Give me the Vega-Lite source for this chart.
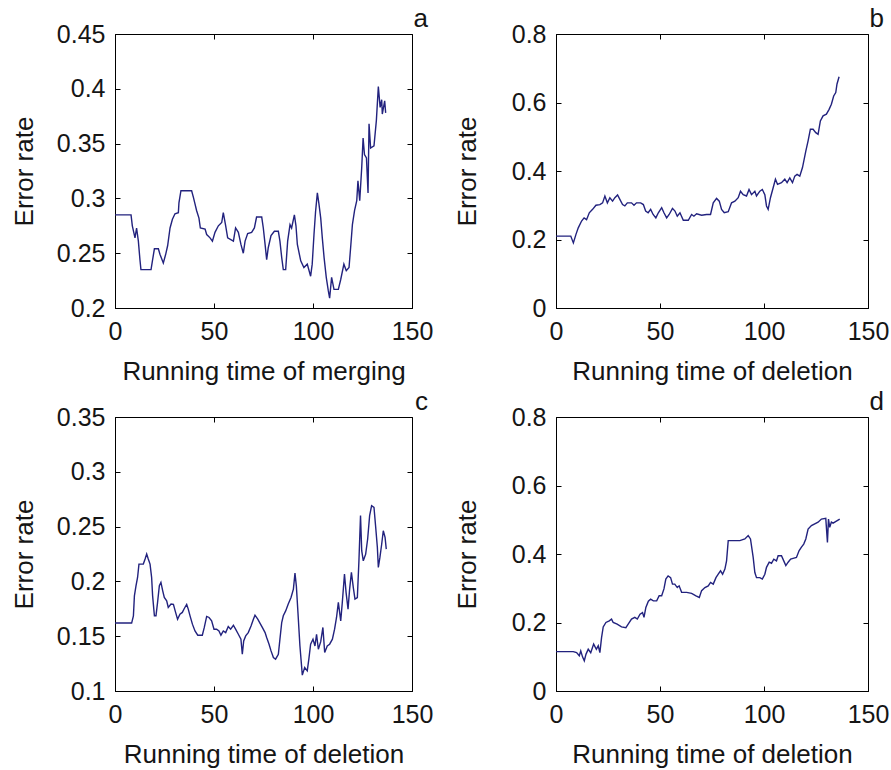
{
  "$schema": "https://vega.github.io/schema/vega-lite/v6.json",
  "background": "white",
  "padding": {"left": 10, "top": 5, "right": 0, "bottom": 0},
  "datasets": {
    "a": [
      {"t":0,"v":0.285},{"t":8.1,"v":0.285},{"t":8.75,"v":0.275},{"t":10.1,"v":0.264},{"t":10.9,"v":0.273},{"t":11.8,"v":0.261},{"t":12.6,"v":0.244},{"t":13.1,"v":0.235},{"t":18.2,"v":0.235},{"t":18.9,"v":0.243},{"t":19.9,"v":0.254},{"t":21.9,"v":0.254},{"t":22.7,"v":0.249},{"t":24.4,"v":0.241},{"t":25.6,"v":0.249},{"t":26.6,"v":0.257},{"t":27.8,"v":0.273},{"t":29.0,"v":0.281},{"t":30.3,"v":0.286},{"t":32.0,"v":0.287},{"t":32.3,"v":0.296},{"t":33.3,"v":0.307},{"t":38.7,"v":0.307},{"t":39.6,"v":0.301},{"t":40.4,"v":0.295},{"t":41.2,"v":0.289},{"t":42.4,"v":0.282},{"t":43.1,"v":0.273},{"t":45.5,"v":0.272},{"t":46.3,"v":0.267},{"t":48.0,"v":0.264},{"t":49.2,"v":0.261},{"t":50.5,"v":0.269},{"t":52.2,"v":0.275},{"t":53.9,"v":0.278},{"t":54.7,"v":0.287},{"t":55.9,"v":0.275},{"t":56.9,"v":0.264},{"t":59.8,"v":0.261},{"t":60.9,"v":0.273},{"t":62.3,"v":0.269},{"t":63.6,"v":0.258},{"t":64.8,"v":0.25},{"t":65.7,"v":0.261},{"t":67.0,"v":0.268},{"t":69.0,"v":0.269},{"t":70.4,"v":0.273},{"t":71.5,"v":0.283},{"t":74.1,"v":0.283},{"t":74.9,"v":0.273},{"t":75.8,"v":0.258},{"t":76.6,"v":0.244},{"t":77.4,"v":0.255},{"t":78.8,"v":0.266},{"t":80.5,"v":0.27},{"t":82.5,"v":0.27},{"t":83.3,"v":0.261},{"t":84.2,"v":0.246},{"t":85.0,"v":0.235},{"t":86.2,"v":0.235},{"t":87.2,"v":0.261},{"t":88.4,"v":0.276},{"t":89.2,"v":0.273},{"t":90.6,"v":0.285},{"t":91.4,"v":0.275},{"t":92.1,"v":0.258},{"t":93.8,"v":0.243},{"t":95.4,"v":0.237},{"t":97.1,"v":0.24},{"t":98.8,"v":0.229},{"t":99.6,"v":0.24},{"t":100.5,"v":0.267},{"t":101.3,"v":0.288},{"t":102.2,"v":0.305},{"t":103.0,"v":0.295},{"t":103.9,"v":0.282},{"t":104.7,"v":0.264},{"t":105.6,"v":0.246},{"t":106.7,"v":0.228},{"t":107.7,"v":0.216},{"t":108.4,"v":0.209},{"t":109.4,"v":0.228},{"t":110.6,"v":0.217},{"t":112.8,"v":0.217},{"t":114.0,"v":0.226},{"t":115.6,"v":0.24},{"t":116.8,"v":0.234},{"t":118.2,"v":0.237},{"t":119.0,"v":0.255},{"t":119.9,"v":0.276},{"t":121.0,"v":0.289},{"t":122.1,"v":0.298},{"t":122.7,"v":0.316},{"t":123.6,"v":0.298},{"t":124.6,"v":0.328},{"t":125.3,"v":0.355},{"t":126.0,"v":0.34},{"t":127.0,"v":0.337},{"t":127.8,"v":0.305},{"t":128.3,"v":0.368},{"t":129.1,"v":0.346},{"t":130.8,"v":0.348},{"t":132.0,"v":0.371},{"t":133.0,"v":0.402},{"t":133.9,"v":0.383},{"t":134.7,"v":0.39},{"t":135.0,"v":0.377},{"t":136.2,"v":0.389},{"t":136.7,"v":0.378}
    ],
    "b": [
      {"t":0,"v":0.21},{"t":7.1,"v":0.21},{"t":8.35,"v":0.19},{"t":9.6,"v":0.215},{"t":10.7,"v":0.234},{"t":12.3,"v":0.254},{"t":13.5,"v":0.263},{"t":14.7,"v":0.258},{"t":16.0,"v":0.278},{"t":17.6,"v":0.288},{"t":19.2,"v":0.3},{"t":21.1,"v":0.302},{"t":22.4,"v":0.307},{"t":23.5,"v":0.327},{"t":24.7,"v":0.307},{"t":25.9,"v":0.322},{"t":27.2,"v":0.312},{"t":28.3,"v":0.322},{"t":29.6,"v":0.33},{"t":30.7,"v":0.317},{"t":32.0,"v":0.302},{"t":33.1,"v":0.298},{"t":34.3,"v":0.307},{"t":36.3,"v":0.307},{"t":37.5,"v":0.3},{"t":38.7,"v":0.307},{"t":40.7,"v":0.307},{"t":42.0,"v":0.302},{"t":43.1,"v":0.283},{"t":44.3,"v":0.278},{"t":45.5,"v":0.288},{"t":46.7,"v":0.273},{"t":48.0,"v":0.263},{"t":49.2,"v":0.278},{"t":50.8,"v":0.293},{"t":51.9,"v":0.278},{"t":53.2,"v":0.263},{"t":54.4,"v":0.273},{"t":56.0,"v":0.291},{"t":57.2,"v":0.283},{"t":58.3,"v":0.268},{"t":59.6,"v":0.278},{"t":61.2,"v":0.256},{"t":63.6,"v":0.256},{"t":65.2,"v":0.273},{"t":66.3,"v":0.268},{"t":67.6,"v":0.275},{"t":70.0,"v":0.271},{"t":72.4,"v":0.273},{"t":74.3,"v":0.273},{"t":75.6,"v":0.307},{"t":77.2,"v":0.32},{"t":78.5,"v":0.312},{"t":79.6,"v":0.288},{"t":80.9,"v":0.278},{"t":82.8,"v":0.281},{"t":84.4,"v":0.307},{"t":86.0,"v":0.312},{"t":87.6,"v":0.322},{"t":88.7,"v":0.341},{"t":90.0,"v":0.331},{"t":91.6,"v":0.327},{"t":92.8,"v":0.346},{"t":94.0,"v":0.331},{"t":95.6,"v":0.341},{"t":96.4,"v":0.327},{"t":98.0,"v":0.341},{"t":99.2,"v":0.346},{"t":100.4,"v":0.331},{"t":101.2,"v":0.298},{"t":102.0,"v":0.288},{"t":103.1,"v":0.322},{"t":104.4,"v":0.351},{"t":105.5,"v":0.376},{"t":106.5,"v":0.361},{"t":108.4,"v":0.366},{"t":110.0,"v":0.376},{"t":111.1,"v":0.366},{"t":112.4,"v":0.38},{"t":113.7,"v":0.366},{"t":114.8,"v":0.385},{"t":115.9,"v":0.39},{"t":117.2,"v":0.385},{"t":118.5,"v":0.41},{"t":120.1,"v":0.458},{"t":121.2,"v":0.488},{"t":122.3,"v":0.522},{"t":123.6,"v":0.522},{"t":124.9,"v":0.512},{"t":126.0,"v":0.507},{"t":127.1,"v":0.546},{"t":128.4,"v":0.561},{"t":130.0,"v":0.566},{"t":131.3,"v":0.58},{"t":132.4,"v":0.595},{"t":133.5,"v":0.619},{"t":134.5,"v":0.629},{"t":135.1,"v":0.654},{"t":136.1,"v":0.675}
    ],
    "c": [
      {"t":0,"v":0.162},{"t":8.4,"v":0.162},{"t":9.3,"v":0.1686},{"t":9.8,"v":0.1868},{"t":10.6,"v":0.196},{"t":11.4,"v":0.2036},{"t":12.1,"v":0.2158},{"t":14.3,"v":0.2158},{"t":15.2,"v":0.2204},{"t":16.0,"v":0.225},{"t":16.8,"v":0.2204},{"t":17.7,"v":0.2158},{"t":18.5,"v":0.2036},{"t":19.0,"v":0.1868},{"t":19.9,"v":0.1686},{"t":20.7,"v":0.1686},{"t":21.5,"v":0.1808},{"t":22.4,"v":0.196},{"t":23.2,"v":0.1991},{"t":24.1,"v":0.1914},{"t":24.9,"v":0.1854},{"t":26.1,"v":0.1823},{"t":26.9,"v":0.1763},{"t":28.3,"v":0.1793},{"t":29.5,"v":0.179},{"t":30.6,"v":0.1717},{"t":31.6,"v":0.1655},{"t":32.8,"v":0.1701},{"t":34.0,"v":0.1717},{"t":35.0,"v":0.1753},{"t":36.2,"v":0.179},{"t":37.0,"v":0.1747},{"t":37.9,"v":0.1686},{"t":39.1,"v":0.161},{"t":40.4,"v":0.1548},{"t":41.8,"v":0.1509},{"t":44.1,"v":0.1509},{"t":45.1,"v":0.158},{"t":46.3,"v":0.168},{"t":47.5,"v":0.1671},{"t":48.8,"v":0.164},{"t":50.0,"v":0.1564},{"t":51.3,"v":0.1564},{"t":52.5,"v":0.1548},{"t":53.5,"v":0.1509},{"t":54.7,"v":0.1548},{"t":55.9,"v":0.1533},{"t":57.2,"v":0.1589},{"t":58.4,"v":0.1564},{"t":59.8,"v":0.16},{"t":60.9,"v":0.1564},{"t":62.3,"v":0.1518},{"t":63.6,"v":0.1473},{"t":64.3,"v":0.1335},{"t":65.0,"v":0.1457},{"t":66.0,"v":0.1503},{"t":67.3,"v":0.1533},{"t":68.7,"v":0.1594},{"t":69.9,"v":0.1655},{"t":70.7,"v":0.1692},{"t":72.1,"v":0.1655},{"t":73.2,"v":0.162},{"t":74.4,"v":0.158},{"t":75.8,"v":0.1533},{"t":76.6,"v":0.1488},{"t":77.8,"v":0.1427},{"t":78.8,"v":0.1366},{"t":80.0,"v":0.1305},{"t":81.1,"v":0.129},{"t":82.5,"v":0.1335},{"t":83.3,"v":0.1473},{"t":84.2,"v":0.1625},{"t":85.0,"v":0.1686},{"t":86.2,"v":0.1731},{"t":87.5,"v":0.1793},{"t":88.9,"v":0.1854},{"t":90.1,"v":0.193},{"t":90.9,"v":0.2075},{"t":91.6,"v":0.1957},{"t":92.4,"v":0.1716},{"t":93.4,"v":0.1411},{"t":94.6,"v":0.1145},{"t":95.8,"v":0.1214},{"t":97.1,"v":0.1184},{"t":97.9,"v":0.129},{"t":98.8,"v":0.1427},{"t":100.0,"v":0.1473},{"t":101.0,"v":0.1411},{"t":101.8,"v":0.1518},{"t":102.7,"v":0.1381},{"t":103.9,"v":0.145},{"t":105.0,"v":0.158},{"t":105.9,"v":0.1351},{"t":107.2,"v":0.1411},{"t":108.4,"v":0.1427},{"t":109.8,"v":0.1473},{"t":110.9,"v":0.1564},{"t":111.9,"v":0.1673},{"t":112.8,"v":0.1808},{"t":114.0,"v":0.164},{"t":114.8,"v":0.1808},{"t":115.9,"v":0.2067},{"t":116.7,"v":0.19},{"t":117.7,"v":0.1747},{"t":118.5,"v":0.193},{"t":119.4,"v":0.2082},{"t":120.4,"v":0.1939},{"t":121.2,"v":0.1838},{"t":122.4,"v":0.1853},{"t":123.2,"v":0.2188},{"t":124.0,"v":0.26},{"t":124.6,"v":0.228},{"t":125.4,"v":0.2188},{"t":126.6,"v":0.2249},{"t":127.6,"v":0.2387},{"t":128.6,"v":0.26},{"t":129.6,"v":0.2691},{"t":130.8,"v":0.2676},{"t":131.6,"v":0.2508},{"t":132.5,"v":0.2311},{"t":133.0,"v":0.2128},{"t":133.8,"v":0.2219},{"t":134.7,"v":0.2341},{"t":135.5,"v":0.2462},{"t":136.4,"v":0.2402},{"t":137.0,"v":0.2295}
    ],
    "d": [
      {"t":0,"v":0.115},{"t":8.3,"v":0.115},{"t":9.9,"v":0.112},{"t":11.2,"v":0.103},{"t":11.9,"v":0.117},{"t":12.8,"v":0.099},{"t":13.6,"v":0.088},{"t":14.4,"v":0.107},{"t":15.5,"v":0.122},{"t":16.7,"v":0.112},{"t":18.1,"v":0.137},{"t":19.4,"v":0.122},{"t":20.3,"v":0.132},{"t":21.1,"v":0.112},{"t":21.9,"v":0.156},{"t":22.7,"v":0.187},{"t":24.0,"v":0.2},{"t":25.6,"v":0.205},{"t":26.7,"v":0.21},{"t":27.5,"v":0.2},{"t":29.4,"v":0.195},{"t":31.5,"v":0.187},{"t":33.6,"v":0.185},{"t":34.7,"v":0.195},{"t":36.3,"v":0.21},{"t":37.9,"v":0.215},{"t":39.1,"v":0.21},{"t":40.4,"v":0.224},{"t":41.6,"v":0.229},{"t":42.3,"v":0.215},{"t":43.2,"v":0.244},{"t":44.4,"v":0.262},{"t":45.5,"v":0.268},{"t":46.8,"v":0.263},{"t":48.4,"v":0.263},{"t":49.6,"v":0.278},{"t":50.8,"v":0.278},{"t":51.9,"v":0.298},{"t":52.8,"v":0.327},{"t":53.9,"v":0.336},{"t":55.1,"v":0.331},{"t":56.0,"v":0.312},{"t":57.1,"v":0.312},{"t":58.3,"v":0.302},{"t":59.2,"v":0.307},{"t":60.4,"v":0.288},{"t":62.8,"v":0.288},{"t":65.2,"v":0.285},{"t":67.3,"v":0.278},{"t":68.9,"v":0.273},{"t":70.0,"v":0.293},{"t":71.6,"v":0.302},{"t":73.2,"v":0.307},{"t":74.3,"v":0.317},{"t":75.6,"v":0.312},{"t":76.9,"v":0.331},{"t":78.0,"v":0.341},{"t":79.1,"v":0.351},{"t":80.1,"v":0.341},{"t":81.2,"v":0.356},{"t":82.0,"v":0.38},{"t":82.8,"v":0.439},{"t":83.9,"v":0.439},{"t":88.4,"v":0.439},{"t":90.8,"v":0.444},{"t":92.4,"v":0.454},{"t":93.5,"v":0.444},{"t":94.8,"v":0.39},{"t":95.6,"v":0.346},{"t":96.4,"v":0.331},{"t":98.0,"v":0.331},{"t":99.2,"v":0.327},{"t":100.4,"v":0.341},{"t":101.2,"v":0.361},{"t":102.5,"v":0.376},{"t":103.6,"v":0.373},{"t":104.7,"v":0.385},{"t":106.0,"v":0.38},{"t":106.8,"v":0.395},{"t":108.4,"v":0.395},{"t":109.5,"v":0.38},{"t":110.5,"v":0.366},{"t":111.6,"v":0.376},{"t":112.8,"v":0.385},{"t":114.4,"v":0.388},{"t":115.6,"v":0.39},{"t":116.9,"v":0.41},{"t":118.0,"v":0.42},{"t":119.1,"v":0.429},{"t":120.1,"v":0.444},{"t":121.2,"v":0.473},{"t":122.8,"v":0.483},{"t":124.4,"v":0.488},{"t":126.0,"v":0.493},{"t":127.6,"v":0.502},{"t":129.7,"v":0.504},{"t":130.5,"v":0.434},{"t":131.0,"v":0.502},{"t":131.6,"v":0.478},{"t":132.4,"v":0.493},{"t":133.2,"v":0.49},{"t":134.8,"v":0.496},{"t":136.4,"v":0.502}
    ]
  },
  "vconcat": [
    {
      "hconcat": [
        {
          "width": 297, "height": 274,
          "data": {"name": "a"},
          "title": {"text": "a", "anchor": "end", "frame": "group", "dx": 16, "offset": -10},
          "layer": [
            {"mark": {"type": "line", "color": "#22227e", "strokeWidth": 1.4},
             "encoding": {
               "x": {"field": "t", "type": "quantitative", "scale": {"domain": [0, 150], "nice": false}, "axis": {"orient": "bottom", "values": [0, 50, 100, 150], "format": "~f", "title": "Running time of merging"}},
               "y": {"field": "v", "type": "quantitative", "scale": {"domain": [0.2, 0.45], "nice": false, "zero": false}, "axis": {"orient": "left", "values": [0.2, 0.25, 0.3, 0.35, 0.4, 0.45], "format": "~f", "title": "Error rate", "titlePadding": 19}}
             }},
            {"mark": {"type": "line", "opacity": 0},
             "encoding": {
               "x": {"field": "t", "type": "quantitative", "axis": {"orient": "top", "values": [0, 50, 100, 150], "labels": false, "title": null, "domain": false}},
               "y": {"field": "v", "type": "quantitative", "axis": {"orient": "right", "values": [0.2, 0.25, 0.3, 0.35, 0.4, 0.45], "labels": false, "title": null, "domain": false}}
             }}
          ],
          "resolve": {"axis": {"x": "independent", "y": "independent"}}
        },
        {
          "width": 312, "height": 274,
          "data": {"name": "b"},
          "title": {"text": "b", "anchor": "end", "frame": "group", "dx": 16, "offset": -10},
          "layer": [
            {"mark": {"type": "line", "color": "#22227e", "strokeWidth": 1.4},
             "encoding": {
               "x": {"field": "t", "type": "quantitative", "scale": {"domain": [0, 150], "nice": false}, "axis": {"orient": "bottom", "values": [0, 50, 100, 150], "format": "~f", "title": "Running time of deletion"}},
               "y": {"field": "v", "type": "quantitative", "scale": {"domain": [0, 0.8], "nice": false, "zero": false}, "axis": {"orient": "left", "values": [0, 0.2, 0.4, 0.6, 0.8], "format": "~f", "title": "Error rate", "titlePadding": 31}}
             }},
            {"mark": {"type": "line", "opacity": 0},
             "encoding": {
               "x": {"field": "t", "type": "quantitative", "axis": {"orient": "top", "values": [0, 50, 100, 150], "labels": false, "title": null, "domain": false}},
               "y": {"field": "v", "type": "quantitative", "axis": {"orient": "right", "values": [0, 0.2, 0.4, 0.6, 0.8], "labels": false, "title": null, "domain": false}}
             }}
          ],
          "resolve": {"axis": {"x": "independent", "y": "independent"}}
        }
      ],
      "spacing": 19
    },
    {
      "hconcat": [
        {
          "width": 297, "height": 274,
          "data": {"name": "c"},
          "title": {"text": "c", "anchor": "end", "frame": "group", "dx": 16, "offset": -10},
          "layer": [
            {"mark": {"type": "line", "color": "#22227e", "strokeWidth": 1.4},
             "encoding": {
               "x": {"field": "t", "type": "quantitative", "scale": {"domain": [0, 150], "nice": false}, "axis": {"orient": "bottom", "values": [0, 50, 100, 150], "format": "~f", "title": "Running time of deletion"}},
               "y": {"field": "v", "type": "quantitative", "scale": {"domain": [0.1, 0.35], "nice": false, "zero": false}, "axis": {"orient": "left", "values": [0.1, 0.15, 0.2, 0.25, 0.3, 0.35], "format": "~f", "title": "Error rate", "titlePadding": 19}}
             }},
            {"mark": {"type": "line", "opacity": 0},
             "encoding": {
               "x": {"field": "t", "type": "quantitative", "axis": {"orient": "top", "values": [0, 50, 100, 150], "labels": false, "title": null, "domain": false}},
               "y": {"field": "v", "type": "quantitative", "axis": {"orient": "right", "values": [0.1, 0.15, 0.2, 0.25, 0.3, 0.35], "labels": false, "title": null, "domain": false}}
             }}
          ],
          "resolve": {"axis": {"x": "independent", "y": "independent"}}
        },
        {
          "width": 312, "height": 274,
          "data": {"name": "d"},
          "title": {"text": "d", "anchor": "end", "frame": "group", "dx": 16, "offset": -10},
          "layer": [
            {"mark": {"type": "line", "color": "#22227e", "strokeWidth": 1.4},
             "encoding": {
               "x": {"field": "t", "type": "quantitative", "scale": {"domain": [0, 150], "nice": false}, "axis": {"orient": "bottom", "values": [0, 50, 100, 150], "format": "~f", "title": "Running time of deletion"}},
               "y": {"field": "v", "type": "quantitative", "scale": {"domain": [0, 0.8], "nice": false, "zero": false}, "axis": {"orient": "left", "values": [0, 0.2, 0.4, 0.6, 0.8], "format": "~f", "title": "Error rate", "titlePadding": 31}}
             }},
            {"mark": {"type": "line", "opacity": 0},
             "encoding": {
               "x": {"field": "t", "type": "quantitative", "axis": {"orient": "top", "values": [0, 50, 100, 150], "labels": false, "title": null, "domain": false}},
               "y": {"field": "v", "type": "quantitative", "axis": {"orient": "right", "values": [0, 0.2, 0.4, 0.6, 0.8], "labels": false, "title": null, "domain": false}}
             }}
          ],
          "resolve": {"axis": {"x": "independent", "y": "independent"}}
        }
      ],
      "spacing": 19
    }
  ],
  "spacing": 3,
  "config": {
    "font": "Liberation Sans",
    "view": {"stroke": "#000000", "strokeWidth": 1},
    "axis": {
      "grid": false,
      "tickSize": -5,
      "tickColor": "#000000",
      "tickWidth": 1,
      "domainColor": "#000000",
      "labelFontSize": 25,
      "labelColor": "#151515",
      "labelPadding": 16,
      "labelFlush": false,
      "labelOverlap": false,
      "titleFontSize": 26,
      "titleFontWeight": "normal",
      "titleColor": "#151515"
    },
    "axisY": {"labelPadding": 15},
    "axisX": {"titlePadding": 14},
    "title": {"fontSize": 26, "fontWeight": "normal", "color": "#151515"}
  }
}
